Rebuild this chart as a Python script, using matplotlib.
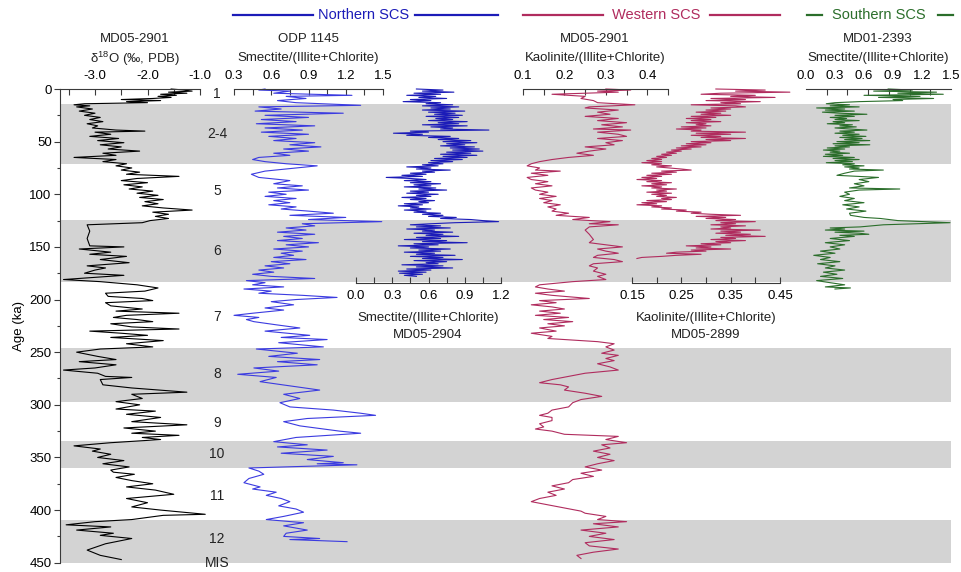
import matplotlib
matplotlib.use('Agg')
import matplotlib.pyplot as plt
import numpy as np

plt.rcParams['font.family'] = ['Liberation Sans', 'DejaVu Sans']
plt.rcParams['font.size'] = 9.5
plt.rcParams['axes.unicode_minus'] = False
plt.rcParams['mathtext.fontset'] = 'custom'
plt.rcParams['mathtext.rm'] = 'Liberation Sans'

# MIS stages: glacial bands (ka) and label positions
glacials = [(14, 71), (124, 183), (246, 297), (334, 360), (409, 450)]
mis_labels = ['1', '2-4', '5', '6', '7', '8', '9', '10', '11', '12']
mis_ages = [5, 43, 97, 154, 217, 271, 317, 347, 387, 427]

# MD05-2901 benthic d18O
d18o_age = [0, 1, 2, 3, 4, 5, 6, 7, 8, 9, 10, 11, 12, 13, 14, 15, 16, 17, 19, 21, 23, 25, 27, 29, 31, 33, 35, 37, 39, 40,
            41, 43, 45, 47, 49, 51, 53, 55, 57, 59, 61, 63, 65, 67, 69, 71, 73, 75, 77, 79, 81, 83, 85, 87, 89, 91, 93, 95,
            97, 99, 101, 103, 105, 107, 109, 111, 113, 115, 117, 119, 121, 123, 125, 127, 129, 135, 142, 149, 150, 152,
            155, 157, 159, 162, 165, 168, 170, 172, 175, 177, 181, 183, 186, 189, 192, 194, 197, 199, 201, 203, 206, 209,
            211, 213, 215, 217, 219, 221, 223, 226, 228, 230, 232, 234, 236, 239, 242, 245, 247, 250, 254, 257, 259, 262,
            265, 267, 270, 273, 274, 276, 281, 284, 288, 290, 294, 297, 300, 304, 306, 309, 312, 316, 319, 322, 325, 327,
            329, 331, 333, 336, 339, 342, 344, 347, 350, 353, 356, 359, 362, 364, 366, 369, 372, 375, 378, 381, 385, 389,
            393, 397, 400, 404, 405, 409, 411, 414, 416, 419, 422, 424, 427, 432, 438, 443, 447]
d18o_val = [-1.55, -1.3, -1.15, -1.6, -1.25, -1.75, -1.45, -1.8, -1.55, -1.9, -2.5, -1.75, -2.4, -2.0, -3.2, -3.4, -3.1,
            -3.35, -3.05, -3.3, -3.0, -3.2, -2.9, -3.1, -2.85, -3.15, -2.95, -3.05, -2.6, -2.05, -3.0, -2.7, -3.1, -2.55,
            -2.95, -2.45, -2.9, -2.5, -2.75, -2.15, -2.85, -2.6, -3.4, -2.6, -2.85, -2.4, -2.6, -2.3, -2.5, -2.15, -2.4,
            -1.4, -2.2, -2.5, -2.0, -2.45, -2.1, -2.35, -1.9, -2.2, -1.8, -2.15, -1.7, -2.05, -1.8, -2.1, -1.7, -1.15,
            -1.9, -1.6, -1.85, -1.6, -1.95, -2.1, -3.15, -3.1, -3.15, -3.1, -2.45, -3.3, -2.7, -3.1, -2.4, -2.9, -2.35,
            -3.15, -2.8, -3.0, -3.2, -2.45, -3.6, -2.9, -2.2, -1.8, -2.05, -2.8, -2.75, -2.1, -1.9, -2.8, -2.7, -2.1,
            -2.6, -1.4, -2.4, -2.65, -2.2, -1.9, -2.7, -2.3, -1.4, -3.1, -2.5, -2.0, -2.7, -1.7, -2.4, -1.9, -2.9, -3.35,
            -2.95, -2.6, -3.3, -2.6, -3.0, -3.6, -2.95, -2.8, -2.3, -2.9, -2.85, -2.3, -1.25, -2.3, -2.1, -2.6, -2.15,
            -2.6, -1.85, -2.4, -1.75, -2.3, -1.25, -2.45, -1.85, -2.3, -1.4, -2.1, -1.75, -2.7, -3.4, -2.9, -3.05, -2.7,
            -2.95, -2.45, -2.85, -2.35, -2.7, -2.65, -2.25, -2.6, -2.3, -1.9, -2.4, -1.85, -1.5, -2.4, -2.0, -2.3, -1.75,
            -0.9, -1.7, -2.3, -3.0, -3.55, -2.7, -3.35, -2.65, -2.9, -2.3, -2.8, -3.15, -2.9, -2.5]

# ODP 1145 smectite/(illite+chlorite)
odp_age = [0, 1, 2, 4, 6, 7, 9, 11, 13, 15.5, 17, 19, 21, 23, 25, 27, 29, 31, 33, 35, 37, 39, 41, 43, 45, 47, 49, 51, 53,
           55, 57, 59, 61, 63, 65, 67, 69, 71, 73, 75, 78, 81, 84, 87, 90, 92, 94, 96, 98, 100, 102, 104, 106, 108, 110,
           112, 114, 116, 118, 120, 122, 124, 126, 128, 130, 132, 134, 136, 138, 140, 142, 144, 146, 148, 150, 152, 154,
           156, 158, 160, 162, 164, 166, 168, 170, 172, 174, 176, 178, 180, 182, 184, 186, 188, 190, 192, 194, 196, 198,
           200, 202, 205, 208, 210, 213, 215, 217, 219, 221, 224, 227, 230, 234, 236, 238, 241, 245, 247, 251, 254, 257,
           259, 262, 265, 268, 271, 274, 278, 282, 286, 290, 294, 298, 302, 305, 308, 310, 313, 316, 320, 325, 327, 331,
           335, 338, 340, 343, 346, 349, 352, 355, 356, 357, 360, 363, 366, 370, 374, 378, 380, 383, 386, 389, 392, 396,
           399, 402, 406, 409, 412, 415, 419, 422, 425, 427, 428, 430]
odp_val = [0.55, 0.50, 0.75, 0.62, 1.25, 0.72, 0.88, 0.65, 0.80, 1.32, 0.50, 0.68, 0.47, 1.18, 0.55, 0.90, 0.52, 0.80,
           0.48, 0.95, 0.55, 0.85, 0.52, 0.90, 0.58, 0.80, 0.62, 0.95, 0.75, 1.00, 0.70, 0.90, 0.62, 0.75, 0.50, 0.45,
           0.55, 0.72, 0.97, 0.80, 0.55, 0.44, 0.50, 0.75, 0.62, 0.85, 0.65, 0.90, 0.58, 0.72, 0.55, 0.80, 0.62, 0.75,
           0.58, 0.80, 0.68, 0.90, 1.10, 0.75, 1.20, 0.90, 1.49, 0.85, 0.95, 0.72, 0.88, 0.65, 0.95, 0.70, 0.85, 0.65,
           0.98, 0.72, 0.90, 0.62, 0.85, 0.68, 0.78, 0.62, 0.88, 0.60, 0.75, 0.55, 0.70, 0.50, 0.62, 0.45, 0.60, 0.95,
           0.40, 0.55, 0.45, 0.70, 0.38, 0.60, 0.50, 0.85, 1.13, 0.80, 0.60, 0.78, 0.55, 0.70, 0.45, 0.30, 0.50, 0.40,
           0.46, 0.64, 0.83, 0.55, 0.91, 0.68, 1.05, 0.66, 1.02, 0.48, 0.81, 0.58, 0.99, 0.65, 0.97, 0.46, 0.66, 0.33,
           0.64, 0.51, 0.75, 0.99, 0.70, 0.83, 0.67, 0.75, 1.10, 1.32, 1.44, 0.89, 0.70, 0.83, 1.15, 1.32, 0.80, 0.62,
           0.89, 0.65, 1.05, 0.68, 1.10, 0.89, 1.18, 0.97, 1.29, 0.42, 0.50, 0.54, 0.42, 0.38, 0.51, 0.45, 0.64, 0.56,
           0.68, 0.75, 0.66, 0.80, 0.86, 0.70, 0.56, 0.86, 0.70, 0.89, 0.72, 0.70, 0.99, 0.75, 1.21]

# MD05-2904 smectite/(illite+chlorite)
md2904_age = list(range(0, 179))
md2904_val = [0.50, 0.72, 0.55, 0.81, 0.48, 0.70, 0.42, 0.66, 0.52, 0.75, 0.45, 0.62, 0.39, 0.70, 0.58, 0.80, 0.55, 0.85,
              0.62, 0.78, 0.55, 0.90, 0.60, 0.82, 0.65, 0.88, 0.58, 0.85, 0.66, 0.80, 0.60, 0.92, 0.68, 0.85, 0.55, 0.92,
              0.62, 0.80, 0.70, 1.10, 0.45, 0.60, 0.31, 0.55, 0.42, 0.78, 0.60, 0.85, 0.68, 0.95, 0.72, 1.00, 0.75, 0.90,
              0.70, 0.98, 0.78, 1.02, 0.80, 1.05, 0.75, 0.95, 0.70, 1.00, 0.72, 0.92, 0.65, 0.88, 0.62, 0.80, 0.60, 0.72,
              0.55, 0.68, 0.42, 0.62, 0.50, 0.78, 0.55, 0.65, 0.45, 0.58, 0.38, 0.55, 0.25, 0.45, 0.58, 0.40, 0.62, 0.45,
              0.70, 0.48, 0.62, 0.40, 0.66, 0.52, 0.75, 0.45, 0.60, 0.42, 0.68, 0.50, 0.62, 0.38, 0.58, 0.45, 0.65, 0.52,
              0.60, 0.40, 0.55, 0.35, 0.52, 0.45, 0.62, 0.40, 0.58, 0.48, 0.70, 0.55, 0.72, 0.60, 0.83, 0.70, 0.95, 1.05,
              1.18, 0.82, 0.62, 0.45, 0.70, 0.50, 0.78, 0.42, 0.65, 0.55, 0.80, 0.48, 0.72, 0.58, 0.85, 0.50, 0.70, 0.40,
              0.75, 0.55, 0.92, 0.48, 0.68, 0.35, 0.60, 0.45, 0.78, 0.52, 0.70, 0.40, 0.65, 0.50, 0.82, 0.45, 0.72, 0.55,
              0.88, 0.48, 0.75, 0.58, 0.68, 0.38, 0.72, 0.50, 0.80, 0.42, 0.62, 0.35, 0.58, 0.36, 0.55, 0.40, 0.50]

# MD05-2901 kaolinite/(illite+chlorite)
md2901_age = [0, 1, 2, 3, 5, 7, 9, 11, 13, 15, 17, 18, 20, 22, 24, 26, 28, 30, 32, 34, 36, 38, 39, 41, 43, 45, 47, 49,
              51, 53, 55, 57, 59, 61, 63, 65, 67, 69, 71, 73, 75, 77, 78, 80, 82, 84, 86, 88, 90, 92, 94, 96, 98, 100,
              102, 104, 106, 108, 110, 112, 114, 116, 118, 120, 122, 124, 126, 128, 129, 131, 134, 138, 143, 146, 148,
              150, 152, 154, 156, 158, 160, 162, 164, 166, 168, 170, 173, 176, 178, 181, 183, 186, 188, 190, 192, 194,
              196, 199, 201, 203, 205, 207, 209, 211, 213, 215, 217, 219, 221, 223, 225, 227, 230, 232, 235, 237, 240,
              242, 245, 248, 251, 253, 256, 258, 261, 264, 267, 270, 273, 276, 279, 281, 283, 286, 289, 292, 295, 298,
              302, 305, 308, 310, 312, 315, 318, 321, 323, 325, 328, 330, 333, 336, 338, 341, 344, 347, 350, 353, 356,
              359, 362, 365, 368, 371, 374, 377, 380, 383, 386, 389, 392, 395, 398, 401, 403, 406, 409, 411, 413, 416,
              419, 422, 425, 428, 431, 434, 437, 440, 443, 446]
md2901_val = [0.30, 0.36, 0.28, 0.33, 0.17, 0.25, 0.24, 0.27, 0.28, 0.37, 0.26, 0.25, 0.33, 0.28, 0.31, 0.25, 0.33, 0.28,
              0.35, 0.29, 0.34, 0.27, 0.36, 0.28, 0.33, 0.35, 0.28, 0.34, 0.30, 0.32, 0.25, 0.30, 0.26, 0.23, 0.27, 0.21,
              0.17, 0.14, 0.12, 0.11, 0.14, 0.13, 0.19, 0.12, 0.16, 0.11, 0.12, 0.16, 0.13, 0.17, 0.12, 0.13, 0.16, 0.14,
              0.18, 0.14, 0.17, 0.15, 0.19, 0.16, 0.18, 0.17, 0.21, 0.18, 0.26, 0.22, 0.31, 0.26, 0.33, 0.26, 0.25, 0.26,
              0.27, 0.26, 0.30, 0.34, 0.28, 0.30, 0.33, 0.28, 0.27, 0.32, 0.34, 0.27, 0.26, 0.28, 0.27, 0.30, 0.28, 0.30,
              0.22, 0.14, 0.13, 0.16, 0.20, 0.13, 0.17, 0.26, 0.14, 0.18, 0.12, 0.17, 0.20, 0.14, 0.19, 0.13, 0.21, 0.15,
              0.22, 0.16, 0.20, 0.14, 0.18, 0.12, 0.17, 0.16, 0.28, 0.32, 0.30, 0.32, 0.29, 0.33, 0.30, 0.32, 0.28, 0.31,
              0.33, 0.25, 0.21, 0.17, 0.14, 0.19, 0.21, 0.20, 0.25, 0.29, 0.24, 0.22, 0.21, 0.17, 0.16, 0.14, 0.17, 0.17,
              0.14, 0.15, 0.13, 0.17, 0.20, 0.33, 0.30, 0.35, 0.29, 0.31, 0.27, 0.31, 0.28, 0.32, 0.28, 0.25, 0.29, 0.24,
              0.27, 0.22, 0.21, 0.17, 0.20, 0.16, 0.18, 0.14, 0.12, 0.16, 0.20, 0.24, 0.25, 0.30, 0.28, 0.35, 0.27, 0.33,
              0.24, 0.30, 0.26, 0.32, 0.25, 0.26, 0.33, 0.27, 0.23, 0.24]

# MD05-2899 kaolinite/(illite+chlorite)
md2899_age = list(range(0, 75)) + list(range(76, 162))
md2899_val = [0.32, 0.42, 0.36, 0.47, 0.33, 0.29, 0.40, 0.35, 0.44, 0.31, 0.38, 0.30, 0.41, 0.33, 0.37, 0.27, 0.36, 0.38,
              0.31, 0.35, 0.30, 0.34, 0.28, 0.33, 0.29, 0.35, 0.27, 0.32, 0.26, 0.31, 0.27, 0.33, 0.26, 0.30, 0.28, 0.31,
              0.25, 0.30, 0.24, 0.29, 0.27, 0.38, 0.28, 0.35, 0.27, 0.33, 0.29, 0.38, 0.30, 0.35, 0.27, 0.31, 0.26, 0.30,
              0.25, 0.29, 0.24, 0.27, 0.23, 0.25, 0.22, 0.24, 0.21, 0.23, 0.20, 0.22, 0.19, 0.21, 0.18, 0.21, 0.17, 0.21,
              0.19, 0.23, 0.20, 0.25, 0.27, 0.21, 0.24, 0.19, 0.23, 0.18, 0.21, 0.17, 0.20, 0.16, 0.21, 0.18, 0.23, 0.19,
              0.22, 0.17, 0.21, 0.19, 0.24, 0.20, 0.22, 0.18, 0.23, 0.19, 0.22, 0.20, 0.24, 0.21, 0.23, 0.18, 0.22, 0.17,
              0.20, 0.16, 0.21, 0.19, 0.23, 0.21, 0.26, 0.24, 0.29, 0.27, 0.31, 0.37, 0.28, 0.34, 0.30, 0.36, 0.32, 0.40,
              0.33, 0.36, 0.31, 0.38, 0.33, 0.35, 0.31, 0.41, 0.33, 0.37, 0.32, 0.39, 0.34, 0.42, 0.33, 0.36, 0.31, 0.38,
              0.32, 0.35, 0.29, 0.33, 0.26, 0.31, 0.28, 0.35, 0.27, 0.30, 0.24, 0.22, 0.29, 0.24, 0.21, 0.17, 0.16]

# MD01-2393 smectite/(illite+chlorite)
md2393_age = list(range(0, 79)) + [80, 82, 84, 86, 88, 90, 92, 94, 95, 96, 98, 100, 102, 104, 106, 108, 110, 112, 114,
                                   116, 118, 120, 122, 123, 125, 127, 129, 131, 132, 133, 134, 135, 136, 137, 138, 139,
                                   140, 142, 144, 146, 148, 150, 152, 154, 156, 158, 160, 162, 164, 166, 168, 170, 172,
                                   174, 176, 178, 180, 182, 184, 186, 188, 189, 190]
md2393_val = [0.85, 1.10, 0.70, 1.35, 0.95, 1.42, 0.60, 1.18, 0.75, 1.32, 0.90, 1.00, 0.55, 0.30, 0.21, 0.45, 0.25, 0.55,
              0.11, 0.40, 0.20, 0.50, 0.17, 0.35, 0.63, 0.30, 0.50, 0.25, 0.42, 0.30, 0.55, 0.28, 0.40, 0.22, 0.48, 0.35,
              0.52, 0.30, 0.45, 0.63, 0.35, 0.50, 0.30, 0.55, 0.38, 0.62, 0.35, 0.58, 0.40, 0.66, 0.32, 0.55, 0.28, 0.66,
              0.30, 0.45, 0.22, 0.40, 0.18, 0.35, 0.25, 0.45, 0.20, 0.38, 0.18, 0.50, 0.28, 0.55, 0.30, 0.48, 0.21, 0.50,
              0.38, 0.60, 0.40, 0.55, 0.45, 0.80, 0.50, 0.40, 0.32, 0.75, 0.55, 0.65, 0.50, 0.60, 0.45, 0.97, 0.55, 0.40,
              0.45, 0.35, 0.50, 0.40, 0.60, 0.38, 0.55, 0.42, 0.62, 0.45, 0.46, 0.60, 0.77, 0.95, 1.49, 0.80, 0.56, 0.25,
              0.40, 0.20, 0.60, 0.30, 0.55, 0.65, 0.35, 0.50, 0.25, 0.45, 0.20, 0.40, 0.25, 0.35, 0.15, 0.30, 0.08, 0.25,
              0.15, 0.35, 0.12, 0.30, 0.20, 0.40, 0.18, 0.32, 0.15, 0.38, 0.11, 0.25, 0.40, 0.20, 0.46, 0.30]

BLUE_LT = '#3b3be0'
BLUE_DK = '#1c1cb8'
CRIMSON = '#b02c5e'
GREEN = '#2b6e2b'
AXC = '#3a3a3a'

W, H = 961, 572
TOP, PXKA = 89, 1.0527


def ypx(ka):
    return TOP + PXKA * ka


def fx(px):
    return px / W


def fy(py):
    return 1 - py / H


fig = plt.figure(figsize=(W / 100, H / 100), dpi=100)

# base axes: age scale, glacial shading, MIS numbers (x in pixel units)
base = fig.add_axes([fx(60), fy(ypx(450)), fx(951) - fx(60), fy(TOP) - fy(ypx(450))])
base.set_xlim(60, 951)
base.set_ylim(450, 0)
for a, b in glacials:
    base.axhspan(a, b, color='#d3d3d3', lw=0, zorder=0)
for s in ['top', 'right', 'bottom']:
    base.spines[s].set_visible(False)
base.spines['left'].set_color(AXC)
base.spines['left'].set_linewidth(0.8)
base.set_xticks([])
base.set_yticks(np.arange(0, 451, 50))
base.set_yticks(np.arange(25, 450, 50), minor=True)
base.tick_params(axis='y', which='major', length=4, width=0.8, color=AXC, pad=2, labelsize=9.5)
base.tick_params(axis='y', which='minor', length=2.5, width=0.8, color=AXC)
base.set_ylabel('Age (ka)', fontsize=9.5, labelpad=3)
for lab, age in zip(mis_labels, mis_ages):
    base.text(217, age, lab, ha='center', va='center', fontsize=10, color='#222222')


def panel(x0, x1, ka_end, xlim, side='top'):
    ax = fig.add_axes([fx(x0), fy(ypx(ka_end)), fx(x1) - fx(x0), fy(TOP) - fy(ypx(ka_end))])
    ax.set_xlim(*xlim)
    ax.set_ylim(ka_end, 0)
    ax.patch.set_visible(False)
    for s in ax.spines.values():
        s.set_visible(False)
    ax.spines[side].set_visible(True)
    ax.spines[side].set_color(AXC)
    ax.spines[side].set_linewidth(0.8)
    ax.set_yticks([])
    if side == 'top':
        ax.tick_params(axis='x', which='both', direction='in', top=True, bottom=False,
                       labeltop=True, labelbottom=False, length=4, width=0.8, color=AXC, pad=5, labelsize=9.5)
    else:
        ax.tick_params(axis='x', which='both', direction='in', length=4, width=0.8, color=AXC, pad=5,
                       labelsize=9.5)
    return ax


def set_ticks(ax, major, labels, minor):
    ax.set_xticks(major, labels)
    ax.set_xticks(minor, minor=True)


ax1 = panel(60, 200, 450, (-3.667, -1.0))
set_ticks(ax1, [-3, -2, -1], ['-3.0', '-2.0', '-1.0'], [-3.5, -2.5, -1.5])
ax1.plot(d18o_val, d18o_age, color='black', lw=0.8, clip_on=False)

ax2 = panel(234, 383, 450, (0.3, 1.5))
set_ticks(ax2, [0.3, 0.6, 0.9, 1.2, 1.5], ['0.3', '0.6', '0.9', '1.2', '1.5'], [0.45, 0.75, 1.05, 1.35])
ax2.plot(odp_val, odp_age, color=BLUE_LT, lw=0.8, clip_on=False)

ax3 = panel(356, 501, 184.3, (0.0, 1.2), side='bottom')
set_ticks(ax3, [0.0, 0.3, 0.6, 0.9, 1.2], ['0.0', '0.3', '0.6', '0.9', '1.2'], [0.15, 0.45, 0.75, 1.05])
ax3.plot(md2904_val, md2904_age, color=BLUE_DK, lw=0.8, clip_on=False)

ax4 = panel(523, 668, 450, (0.1, 0.45))
set_ticks(ax4, [0.1, 0.2, 0.3, 0.4], ['0.1', '0.2', '0.3', '0.4'], [0.15, 0.25, 0.35, 0.45])
ax4.plot(md2901_val, md2901_age, color=CRIMSON, lw=0.8, clip_on=False)

ax5 = panel(632, 780, 184.3, (0.15, 0.45), side='bottom')
set_ticks(ax5, [0.15, 0.25, 0.35, 0.45], ['0.15', '0.25', '0.35', '0.45'], [0.2, 0.3, 0.4])
ax5.plot(md2899_val, md2899_age, color=CRIMSON, lw=0.8, clip_on=False)

ax6 = panel(806, 951, 450, (0.0, 1.5))
ax6.set_xticks([0.0, 0.3, 0.6, 0.9, 1.2, 1.5], ['0.0', '0.3', '0.6', '0.9', '1.2', '1.5'])
ax6.set_xticks(np.linspace(0, 1.5, 8), minor=True)
ax6.tick_params(axis='x', which='major', length=0)
ax6.plot(md2393_val, md2393_age, color=GREEN, lw=0.8, clip_on=False)

# panel titles
titles = [
    (135, 'MD05-2901', 'δ$^{18}$O (‰, PDB)'),
    (308, 'ODP 1145', 'Smectite/(Illite+Chlorite)'),
    (595, 'MD05-2901', 'Kaolinite/(Illite+Chlorite)'),
    (878, 'MD01-2393', 'Smectite/(Illite+Chlorite)'),
]
for x, name, var in titles:
    fig.text(fx(x), fy(39.5), name, ha='center', va='center', fontsize=9.5, color='#222222')
    fig.text(fx(x), fy(58.5), var, ha='center', va='center', fontsize=9.5, color='#222222')

bottoms = [
    (428, 'MD05-2904', 'Smectite/(Illite+Chlorite)'),
    (706, 'MD05-2899', 'Kaolinite/(Illite+Chlorite)'),
]
for x, name, var in bottoms:
    fig.text(fx(x), fy(318), var, ha='center', va='center', fontsize=9.5, color='#222222')
    fig.text(fx(x), fy(334.5), name, ha='center', va='center', fontsize=9.5, color='#222222')

fig.text(fx(217), fy(563), 'MIS', ha='center', va='center', fontsize=10, color='#222222')

# region headers with coloured rules
regions = [
    ('Northern SCS', BLUE_DK, 364, [(233, 313), (415, 498)]),
    ('Western SCS', CRIMSON, 656, [(523, 603), (710, 780)]),
    ('Southern SCS', GREEN, 879, [(807, 822), (938, 953)]),
]
for name, col, xc, segs in regions:
    fig.text(fx(xc), fy(15), name, ha='center', va='center', fontsize=10.5, color=col)
    for a, b in segs:
        fig.add_artist(plt.Line2D([fx(a), fx(b)], [fy(15), fy(15)], color=col, lw=1.6,
                                  transform=fig.transFigure))

fig.savefig('out.png', dpi=100)
